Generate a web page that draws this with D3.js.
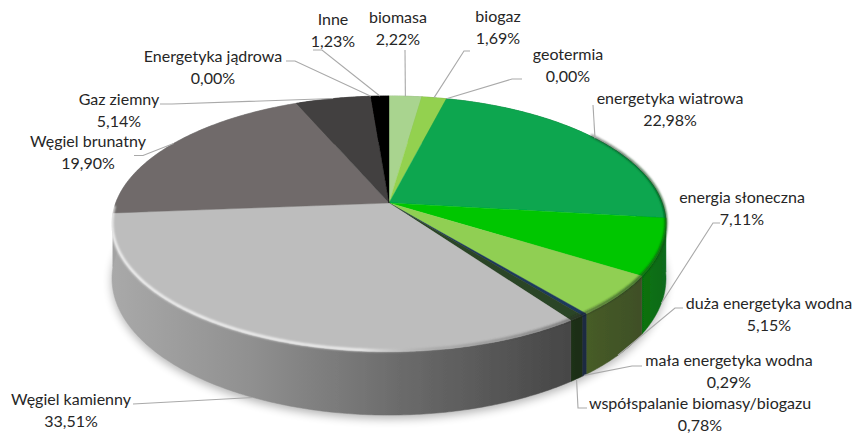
<!DOCTYPE html>
<html lang="pl">
<head>
<meta charset="UTF-8">
<title>Struktura produkcji energii</title>
<style>
    html, body { margin: 0; padding: 0; background: #fff; }
    svg { display: block; }
    text { font-family: Lato, "Open Sans", sans-serif; font-size: 16px; fill: #262626; text-anchor: middle; }
    .leader { fill: none; stroke: #a9a9a9; stroke-width: 1.1; }
</style>
</head>
<body>
<svg width="856" height="434"></svg>
<script src="https://cdnjs.cloudflare.com/ajax/libs/d3/7.8.5/d3.min.js"></script>
<script>
// data, clockwise from twelve o'clock
const categories = ['biomasa', 'biogaz', 'geotermia', 'energetyka wiatrowa', 'energia słoneczna',
    'duża energetyka wodna', 'mała energetyka wodna', 'współspalanie biomasy/biogazu',
    'Węgiel kamienny', 'Węgiel brunatny', 'Gaz ziemny', 'Energetyka jądrowa', 'Inne'];
const values = [2.22, 1.69, 0.00, 22.98, 7.11, 5.15, 0.29, 0.78, 33.51, 19.90, 5.14, 0.00, 1.23];

// styles, same order as categories
const topColors = ['#a9d48f', '#93d14f', '#7fbf5a', '#08a64f', '#03c603', '#90cf52', '#1f3a5c', '#2c4426',
    '#bdbdbd', '#6f6b6a', '#434141', '#333333', '#000000'];
const sideStops = [
    ['#86a972', '#86a972'], ['#6c9a3a', '#6c9a3a'], ['#5c8a3a', '#5c8a3a'], ['#0d6b2c', '#0c6a2a'],
    ['#06720c', '#0f6a1c'], ['#465c28', '#3f4f28'], ['#1b2a42', '#1b2a42'], ['#1f3018', '#1f2e19'],
    ['#a9a9a9', '#464646'], ['#a3a3a3', '#a3a3a3'], ['#333', '#333'], ['#333', '#333'], ['#000', '#000']
];

// label centre x, first line centre y, then the elbow of the leader line [outer x, inner x, y]
const labelX = [398, 498, 568, 670, 742, 769, 729, 700, 71, 88, 119, 213, 333];
const labelY = [18, 17, 55, 99, 198, 304, 361, 404, 400, 142, 100, 57, 20];
const elbows = [
    [405, 405, 50], [470, 464, 51], [522, 512, 79], [593, 593, 105], [720, 713, 223],
    [683, 675, 308], [642, 632, 366], [587, 578, 408], [133, 133, 404], [134, 143, 155.5],
    [160, 172, 104], [286, 295, 61], [313, 322, 50]
];
const lineGap = 21.5;

// perspective of the disc: centre, half axes, foreshortening, thickness
const cx = 389, cy = 203, rx = 273.3, ry = 124.5, persp = 0.163, depth = 53;

function project(angle, drop) {
    const u = Math.sin(angle), v = Math.cos(angle), w = 1 + persp * v;
    return [cx + rx * u / w, cy + (-ry * v + drop) / w];
}

function rim(a0, a1, drop) {
    const n = Math.max(2, Math.ceil((a1 - a0) / 0.01));
    return d3.range(n + 1).map(i => project(a0 + (a1 - a0) * i / n, drop));
}

const line = d3.line();
const svg = d3.select('svg');
const defs = svg.append('defs');

defs.append('filter').attr('id', 'shadow').attr('x', '-10%').attr('y', '-10%').attr('width', '120%').attr('height', '120%')
    .append('feGaussianBlur').attr('stdDeviation', 5);
defs.append('filter').attr('id', 'soft').attr('x', '-5%').attr('y', '-5%').attr('width', '110%').attr('height', '110%')
    .append('feGaussianBlur').attr('stdDeviation', 1.1);
defs.append('filter').attr('id', 'jpeg').attr('x', '-5%').attr('y', '-5%').attr('width', '110%').attr('height', '110%')
    .append('feGaussianBlur').attr('stdDeviation', 0.4);

const arcs = d3.pie().sort(null).value(d => d)(values);

// soft shadow under the disc
svg.append('path')
    .attr('d', line(rim(Math.PI * 0.45, Math.PI * 1.55, depth + 3)) + 'Z')
    .attr('fill', '#000').attr('opacity', 0.3).attr('filter', 'url(#shadow)');

const pieG = svg.append('g').attr('filter', 'url(#jpeg)');

// side walls
arcs.forEach((d, i) => {
    if (d.endAngle === d.startAngle) return;
    const top = rim(d.startAngle, d.endAngle, 0);
    const bottom = rim(d.startAngle, d.endAngle, depth).reverse();
    const xs = top.map(p => p[0]);
    const grad = defs.append('linearGradient').attr('id', 'side' + i)
        .attr('gradientUnits', 'userSpaceOnUse')
        .attr('x1', d3.min(xs)).attr('x2', d3.max(xs)).attr('y1', 0).attr('y2', 0);
    grad.append('stop').attr('offset', 0).attr('stop-color', sideStops[i][0]);
    if (categories[i] === 'Węgiel kamienny') {
        grad.append('stop').attr('offset', 0.3).attr('stop-color', '#909090');
        grad.append('stop').attr('offset', 0.62).attr('stop-color', '#6c6c6c');
    }
    grad.append('stop').attr('offset', 1).attr('stop-color', sideStops[i][1]);
    pieG.append('path')
        .attr('d', line(top.concat(bottom)) + 'Z')
        .attr('fill', 'url(#side' + i + ')')
        .attr('stroke', 'url(#side' + i + ')').attr('stroke-width', 0.5);
});

// top face
arcs.forEach((d, i) => {
    if (d.endAngle === d.startAngle) return;
    pieG.append('path')
        .attr('d', line([[cx, cy]].concat(rim(d.startAngle, d.endAngle, 0))) + 'Z')
        .attr('fill', topColors[i])
        .attr('stroke', topColors[i]).attr('stroke-width', 0.4);
});

// bevel along the front rim: bright on the left, dark towards the right
const bevel = defs.append('linearGradient').attr('id', 'bevel')
    .attr('gradientUnits', 'userSpaceOnUse').attr('x1', 112).attr('x2', 666).attr('y1', 0).attr('y2', 0);
[[0, '#fff', 0.85], [0.45, '#fff', 0.8], [0.6, '#777', 0.35], [0.85, '#222', 0.55], [1, '#0a4a12', 0.85]]
    .forEach(s => bevel.append('stop').attr('offset', s[0]).attr('stop-color', s[1]).attr('stop-opacity', s[2]));
pieG.append('path')
    .attr('d', line(rim(Math.PI * 0.3, Math.PI * 1.49, -1)))
    .attr('fill', 'none').attr('stroke', 'url(#bevel)').attr('stroke-width', 2.5)
    .attr('filter', 'url(#soft)');

// leader lines end on the rim at the middle of each slice; front slices on the lower rim
arcs.forEach((d, i) => {
    const mid = (d.startAngle + d.endAngle) / 2;
    const front = Math.cos(mid) < -0.2;
    const end = project(mid, front ? depth : 0);
    const e = elbows[i];
    svg.append('path').attr('class', 'leader')
        .attr('d', line([[e[0], e[2]], [e[1], e[2]], end]));
});

// labels
categories.forEach((c, i) => {
    const t = svg.append('text').attr('x', labelX[i]).attr('y', labelY[i]);
    t.append('tspan').attr('x', labelX[i]).attr('dy', '0.33em').text(c);
    t.append('tspan').attr('x', labelX[i]).attr('dy', lineGap)
        .text(d3.format('.2f')(values[i]).replace('.', ',') + '%');
});
</script>
</body>
</html>
